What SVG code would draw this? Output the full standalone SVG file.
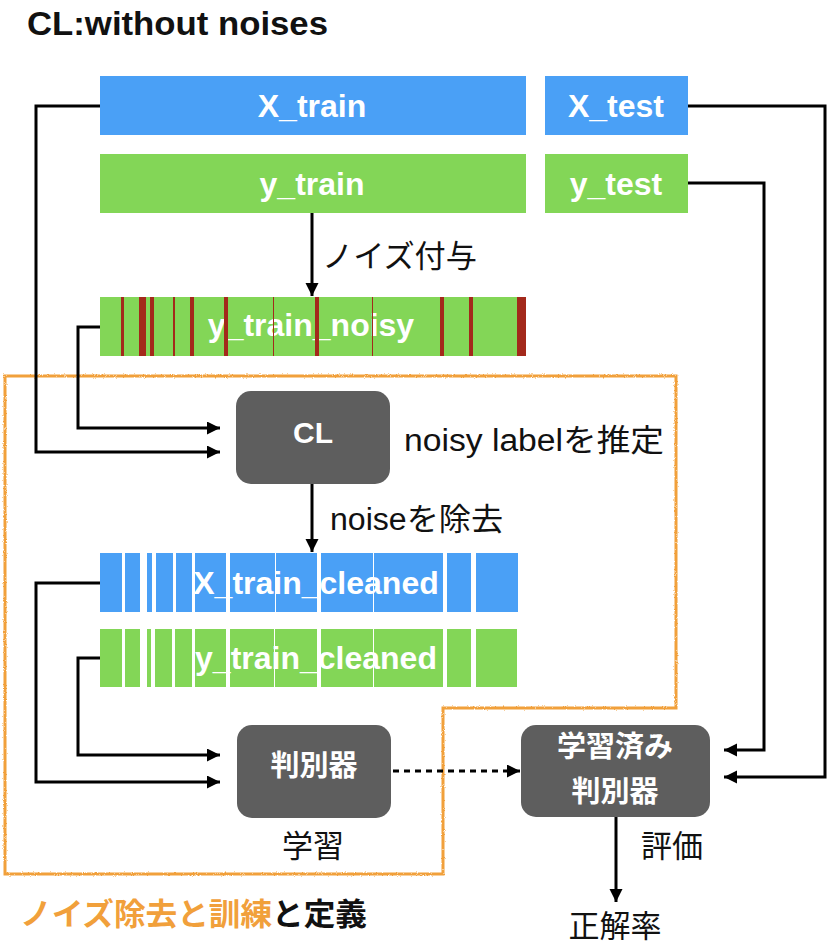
<svg xmlns="http://www.w3.org/2000/svg" width="828" height="948" viewBox="0 0 828 948">
<defs>
<style>
.bg{fill:#ffffff}
.blue{fill:#4AA0F6}
.green{fill:#83D657}
.red{fill:#A3291B}
.gap{fill:#ffffff}
.box{fill:#5E5E5E}
.bt{font-family:"Liberation Sans","Noto Sans CJK JP",sans-serif;font-weight:bold;font-size:32px;fill:#ffffff;text-anchor:middle}
.nt{font-family:"Noto Sans CJK JP",sans-serif;font-weight:bold;font-size:29px;fill:#ffffff;text-anchor:middle}
.lbl{font-family:"Liberation Sans","Noto Sans CJK JP",sans-serif;font-size:31px;fill:#111111}
.title{font-family:"Liberation Sans","Noto Sans CJK JP",sans-serif;font-weight:bold;font-size:33px;fill:#111111}
.foot{font-family:"Noto Sans CJK JP",sans-serif;font-weight:bold;font-size:31px}
.conn{fill:none;stroke:#000000;stroke-width:3}
.dash{stroke-dasharray:6 5}
.orange{fill:none;stroke:#F1A03B;stroke-width:3}
</style>
<marker id="ah" markerUnits="userSpaceOnUse" markerWidth="14" markerHeight="14" refX="13" refY="6.5" orient="auto">
<path d="M0,0 L13,6.5 L0,13 z" fill="#000000"/>
</marker>
<filter id="rough" x="-5%" y="-5%" width="110%" height="110%">
<feTurbulence type="fractalNoise" baseFrequency="0.9" numOctaves="2" seed="3" result="n"/>
<feDisplacementMap in="SourceGraphic" in2="n" scale="2.5"/>
</filter>
</defs>
<rect class="bg" x="0" y="0" width="828" height="948"/>

<text class="title" x="27" y="35" textLength="301" lengthAdjust="spacingAndGlyphs">CL:without noises</text>

<path id="boundary" class="orange" filter="url(#rough)" d="M5,376 H676 V708 H443 V874 H5 Z"/>

<g id="x_train">
<rect class="blue" x="100" y="76" width="426" height="59"/>
<text class="bt" x="312" y="117">X_train</text>
</g>
<g id="x_test">
<rect class="blue" x="545" y="76" width="143" height="59"/>
<text class="bt" x="616" y="117">X_test</text>
</g>
<g id="y_train">
<rect class="green" x="100" y="154" width="426" height="59"/>
<text class="bt" x="312" y="195">y_train</text>
</g>
<g id="y_test">
<rect class="green" x="545" y="154" width="143" height="59"/>
<text class="bt" x="616" y="195">y_test</text>
</g>

<g id="y_train_noisy">
<rect class="green" x="100" y="297" width="426" height="59"/>
<text class="bt" x="311" y="336">y_train_noisy</text>
<g class="red">
<rect x="121" y="297" width="3" height="59"/>
<rect x="139" y="297" width="7" height="59"/>
<rect x="150" y="297" width="4" height="59"/>
<rect x="173" y="297" width="2" height="59"/>
<rect x="190" y="297" width="4" height="59"/>
<rect x="224" y="297" width="4" height="59"/>
<rect x="273" y="297" width="1" height="59"/>
<rect x="315" y="297" width="4" height="59"/>
<rect x="372" y="297" width="1" height="59"/>
<rect x="440" y="297" width="4" height="59"/>
<rect x="469" y="297" width="4" height="59"/>
<rect x="517" y="297" width="9" height="59"/>
</g>
</g>

<g id="cl">
<rect class="box" x="236" y="391" width="154" height="93" rx="15"/>
<text class="bt" x="313" y="443" style="font-size:30px">CL</text>
</g>
<text class="lbl" x="404" y="451" textLength="260" lengthAdjust="spacingAndGlyphs">noisy labelを推定</text>

<g id="x_train_cleaned">
<rect class="blue" x="100" y="553" width="418" height="59"/>
<text class="bt" x="316" y="594">X_train_cleaned</text>
<g class="gap">
<rect x="122" y="553" width="3" height="59"/>
<rect x="140" y="553" width="7" height="59"/>
<rect x="152" y="553" width="4" height="59"/>
<rect x="173" y="553" width="3" height="59"/>
<rect x="192" y="553" width="3" height="59"/>
<rect x="226" y="553" width="4" height="59"/>
<rect x="275" y="553" width="1" height="59"/>
<rect x="317" y="553" width="4" height="59"/>
<rect x="373" y="553" width="1" height="59"/>
<rect x="443" y="553" width="4" height="59"/>
<rect x="471" y="553" width="5" height="59"/>
</g>
</g>

<g id="y_train_cleaned">
<rect class="green" x="100" y="629" width="417" height="58"/>
<text class="bt" x="316" y="669">y_train_cleaned</text>
<g class="gap">
<rect x="122" y="629" width="3" height="58"/>
<rect x="140" y="629" width="7" height="58"/>
<rect x="151" y="629" width="4" height="58"/>
<rect x="172" y="629" width="3" height="58"/>
<rect x="192" y="629" width="3" height="58"/>
<rect x="226" y="629" width="4" height="58"/>
<rect x="274" y="629" width="1" height="58"/>
<rect x="317" y="629" width="4" height="58"/>
<rect x="373" y="629" width="1" height="58"/>
<rect x="443" y="629" width="4" height="58"/>
<rect x="471" y="629" width="5" height="58"/>
</g>
</g>

<g id="classifier">
<rect class="box" x="237" y="725" width="154" height="93" rx="15"/>
<text class="nt" x="314" y="776">判別器</text>
</g>
<g id="trained_classifier">
<rect class="box" x="521" y="725" width="189" height="92" rx="15"/>
<text class="nt" x="615" y="757">学習済み</text>
<text class="nt" x="615" y="802">判別器</text>
</g>

<g id="connectors">
<path class="conn" d="M100,106 H36 V452 H220" marker-end="url(#ah)"/>
<path class="conn" d="M100,327 H78 V428 H220" marker-end="url(#ah)"/>
<path class="conn" d="M312,213 V296" marker-end="url(#ah)"/>
<path class="conn" d="M312,484 V552" marker-end="url(#ah)"/>
<path class="conn" d="M100,583 H36 V782 H220" marker-end="url(#ah)"/>
<path class="conn" d="M100,658 H78 V755 H220" marker-end="url(#ah)"/>
<path class="conn dash" d="M393,771 H520" marker-end="url(#ah)"/>
<path class="conn" d="M688,106 H825 V777 H724" marker-end="url(#ah)"/>
<path class="conn" d="M688,183 H764 V750 H724" marker-end="url(#ah)"/>
<path class="conn" d="M616,817 V902" marker-end="url(#ah)"/>
</g>

<text class="lbl" x="322" y="267" textLength="155" lengthAdjust="spacingAndGlyphs">ノイズ付与</text>
<text class="lbl" x="330" y="530" textLength="173" lengthAdjust="spacingAndGlyphs">noiseを除去</text>
<text class="lbl" x="313" y="857" text-anchor="middle">学習</text>
<text class="lbl" x="641" y="857">評価</text>
<text class="lbl" x="615" y="937" text-anchor="middle">正解率</text>

<text class="foot" x="20" y="925" textLength="347" lengthAdjust="spacingAndGlyphs"><tspan fill="#F1A03B">ノイズ除去と訓練</tspan><tspan fill="#111111">と定義</tspan></text>
</svg>
